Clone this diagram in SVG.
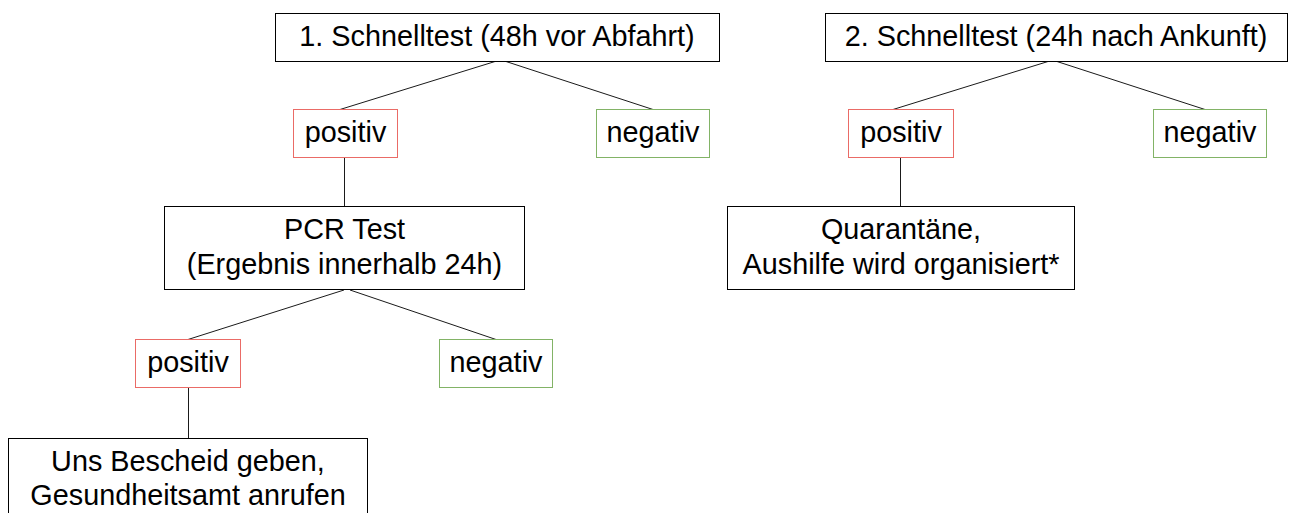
<svg xmlns="http://www.w3.org/2000/svg" width="1289" height="513" viewBox="0 0 1289 513">
  <style>
    .box { fill: #ffffff; stroke: #000000; stroke-width: 1; }
    .pos { fill: #ffffff; stroke: #ea6b66; stroke-width: 1; }
    .neg { fill: #ffffff; stroke: #82b366; stroke-width: 1; }
    .edge { fill: none; stroke: #1a1a1a; stroke-width: 1; }
    text { font-family: "Liberation Sans", Arial, Helvetica, sans-serif; font-size: 28.8px; fill: #000000; text-anchor: middle; }
  </style>
  <rect width="1289" height="513" fill="#ffffff"/>

  <!-- connectors -->
  <g id="connectors">
    <line class="edge" x1="495" y1="61.5" x2="340" y2="109.5"/>
    <line class="edge" x1="506" y1="61.5" x2="653" y2="109.5"/>
    <line class="edge" x1="344.5" y1="157.5" x2="344.5" y2="206.5"/>
    <line class="edge" x1="344" y1="290" x2="188" y2="339.5"/>
    <line class="edge" x1="350" y1="290" x2="496" y2="339.5"/>
    <line class="edge" x1="188.5" y1="387.5" x2="188.5" y2="438.5"/>
    <line class="edge" x1="1048" y1="61.5" x2="893" y2="109.5"/>
    <line class="edge" x1="1057" y1="61.5" x2="1205" y2="109.5"/>
    <line class="edge" x1="900.5" y1="157.5" x2="900.5" y2="206.5"/>
  </g>

  <!-- first rapid test branch -->
  <g id="test1">
    <rect class="box" x="275.5" y="13.5" width="444" height="48"/>
    <text x="497" y="46">1. Schnelltest (48h vor Abfahrt)</text>
  </g>
  <g id="test1-positiv">
    <rect class="pos" x="293.5" y="109.5" width="104" height="48"/>
    <text x="345.5" y="142">positiv</text>
  </g>
  <g id="test1-negativ">
    <rect class="neg" x="596.5" y="109.5" width="113" height="48"/>
    <text x="653" y="142">negativ</text>
  </g>
  <g id="pcr">
    <rect class="box" x="164.5" y="206.5" width="360" height="83"/>
    <text x="344.5" y="239">PCR Test</text>
    <text x="344.5" y="274">(Ergebnis innerhalb 24h)</text>
  </g>
  <g id="pcr-positiv">
    <rect class="pos" x="135.5" y="339.5" width="105" height="48"/>
    <text x="188" y="372">positiv</text>
  </g>
  <g id="pcr-negativ">
    <rect class="neg" x="439.5" y="339.5" width="113" height="48"/>
    <text x="496" y="372">negativ</text>
  </g>
  <g id="report">
    <rect class="box" x="8.5" y="438.5" width="359" height="84"/>
    <text x="188" y="471">Uns Bescheid geben,</text>
    <text x="188" y="505">Gesundheitsamt anrufen</text>
  </g>

  <!-- second rapid test branch -->
  <g id="test2">
    <rect class="box" x="825.5" y="13.5" width="462" height="48"/>
    <text x="1056" y="46">2. Schnelltest (24h nach Ankunft)</text>
  </g>
  <g id="test2-positiv">
    <rect class="pos" x="848.5" y="109.5" width="105" height="48"/>
    <text x="901" y="142">positiv</text>
  </g>
  <g id="test2-negativ">
    <rect class="neg" x="1153.5" y="109.5" width="113" height="48"/>
    <text x="1210" y="142">negativ</text>
  </g>
  <g id="quarantine">
    <rect class="box" x="727.5" y="206.5" width="347" height="83"/>
    <text x="901" y="239">Quarantäne,</text>
    <text x="901" y="274">Aushilfe wird organisiert*</text>
  </g>
</svg>
